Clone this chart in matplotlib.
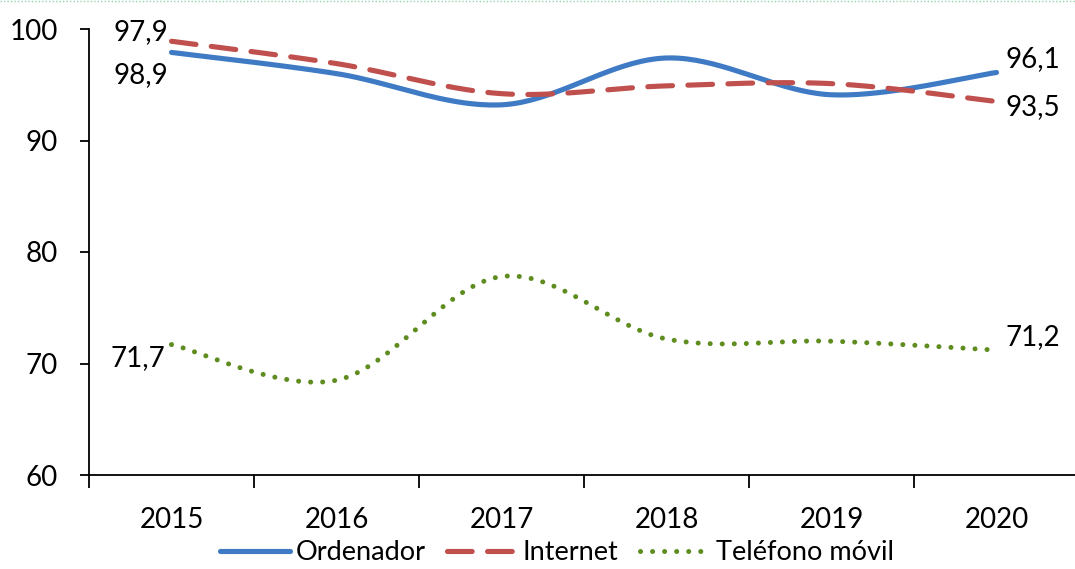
import numpy as np
import matplotlib
matplotlib.use("Agg")
import matplotlib.pyplot as plt
from matplotlib.lines import Line2D

years = ["2015", "2016", "2017", "2018", "2019", "2020"]
ordenador = [97.9, 96.0, 93.2, 97.4, 94.1, 96.1]
internet = [98.9, 96.9, 94.2, 94.9, 95.1, 93.5]
movil = [71.7, 68.5, 77.8, 72.2, 72.0, 71.2]
series_names = ["Ordenador", "Internet", "Teléfono móvil"]
y_ticks = [60, 70, 80, 90, 100]

plt.rcParams['font.family'] = ['Lato', 'DejaVu Sans']

def smooth(xs, ys, n=40):
    # Excel-like smoothing: cubic Bezier with Catmull-Rom control points (tension 1/6)
    P = np.column_stack([xs, ys]).astype(float)
    m = len(P)
    out = []
    for i in range(m - 1):
        p0 = P[i - 1] if i > 0 else P[i]
        p1 = P[i]
        p2 = P[i + 1]
        p3 = P[i + 2] if i + 2 < m else P[i + 1]
        c1 = p1 + (p2 - p0) / 6.0
        c2 = p2 - (p3 - p1) / 6.0
        t = np.linspace(0, 1, n)[:, None]
        seg = ((1 - t) ** 3) * p1 + 3 * ((1 - t) ** 2) * t * c1 + 3 * (1 - t) * t ** 2 * c2 + t ** 3 * p2
        out.append(seg if i == 0 else seg[1:])
    arr = np.vstack(out)
    return arr[:, 0], arr[:, 1]

fig = plt.figure(figsize=(10.75, 5.69), dpi=100)
ax = fig.add_axes([89 / 1075, 1 - 475 / 569, 990 / 1075, (475 - 29) / 569])

x = np.arange(len(years))
c_blue = '#3F7AC4'
c_red = '#C0504D'
c_green = '#5E8C1F'

xs, ys = smooth(x, ordenador)
ax.plot(xs, ys, color=c_blue, lw=3.7, solid_capstyle='round', label=series_names[0])
xs, ys = smooth(x, internet)
ax.plot(xs, ys, color=c_red, lw=3.7, dashes=(4.8, 3.0), dash_capstyle='round', label=series_names[1])
xs, ys = smooth(x, movil)
ax.plot(xs, ys, color=c_green, lw=3.6, dashes=(0.01, 2.4), dash_capstyle='round', label=series_names[2])

ax.set_xlim(-0.5, len(years) - 0.5)
ax.set_ylim(60, 100)
ax.set_yticks(y_ticks)
ax.set_yticklabels([str(v) for v in y_ticks])
ax.set_xticks(np.arange(-0.5, len(years), 1.0))
ax.set_xticklabels([])
ax.set_xticks(x, minor=True)
ax.set_xticklabels(years, minor=True)
fs = 20
ax.tick_params(axis='x', which='major', length=9, width=1.3, direction='out')
ax.tick_params(axis='x', which='minor', length=0, pad=23, labelsize=fs)
ax.tick_params(axis='y', length=6.5, width=1.3, direction='out', pad=16, labelsize=fs)
for s in ['top', 'right']:
    ax.spines[s].set_visible(False)
for s in ['left', 'bottom']:
    ax.spines[s].set_linewidth(1.3)

def lab(i, vals, text, dx, dy, ha):
    ax.annotate(text, (x[i], vals[i]), xytext=(dx, dy), textcoords='offset points',
                ha=ha, va='center', fontsize=fs)

lab(0, ordenador, "97,9", -2, 14.4, 'right')
lab(0, internet, "98,9", -2, -24.5, 'right')
lab(5, ordenador, "96,1", 6.5, 10, 'left')
lab(5, internet, "93,5", 6.5, -4.3, 'left')
lab(0, movil, "71,7", -4.3, -9.7, 'right')
lab(5, movil, "71,2", 6.5, 9.4, 'left')

leg = fig.legend(loc='center', bbox_to_anchor=(0.518, 1 - 553 / 569), ncol=3, frameon=False,
                 fontsize=19.5, handlelength=2.6, handletextpad=0.2, columnspacing=0.8)

fig.add_artist(Line2D([0, 1], [0.998, 0.998], transform=fig.transFigure,
                      color='#8FD3AE', lw=1.0, ls=(0, (1, 1.5))))

fig.savefig("out.png", dpi=100)
